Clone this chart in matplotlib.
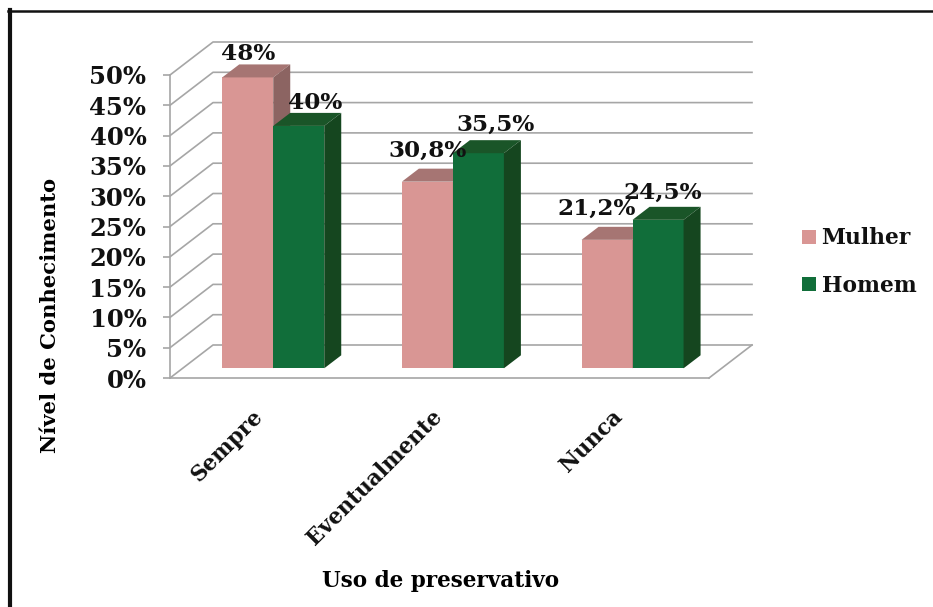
import matplotlib
matplotlib.use('Agg')
import matplotlib.pyplot as plt
from matplotlib.lines import Line2D
from matplotlib.patches import Polygon

categories = ["Sempre", "Eventualmente", "Nunca"]
mulher = [48, 30.8, 21.2]
homem = [40, 35.5, 24.5]
y_ticks = [0, 5, 10, 15, 20, 25, 30, 35, 40, 45, 50]

plt.rcParams['font.family'] = 'DejaVu Serif'
plt.rcParams['font.weight'] = 'bold'

W, H = 933, 607
fig = plt.figure(figsize=(W / 100, H / 100), dpi=100)

# front plane of the fake 3d box, in pixels from the top left
left, right, top, bottom = 170, 709, 75, 378
ax = fig.add_axes([left / W, 1 - bottom / H, (right - left) / W, (bottom - top) / H])
ax.set_xlim(0, 3)
ax.set_ylim(0, 50)
ax.patch.set_visible(False)

px_x = 3 / (right - left)
px_y = 50 / (bottom - top)

# depth of the box and of the bars
box_dx, box_dy = 43 * px_x, 33 * px_y
bar_dx, bar_dy = 17 * px_x, 13 * px_y
shift_x, shift_y = 13.4 * px_x, 9.7 * px_y
bar_w = 51 * px_x

grid_col = '#A6A6A6'
for t in y_ticks:
    ax.plot([0, box_dx, 3 + box_dx], [t, t + box_dy, t + box_dy], color=grid_col,
            lw=1.2, clip_on=False, zorder=1)
ax.plot([3, 3 + box_dx], [0, box_dy], color=grid_col, lw=1.2, clip_on=False, zorder=1)


def bars_3d(xs, values, front, top_col, side_col, name, z):
    ax.bar(xs, values, bar_w, bottom=shift_y, align='edge', color=front, label=name, zorder=z)
    for x, v in zip(xs, values):
        y = v + shift_y
        x2 = x + bar_w
        ax.add_patch(Polygon([(x, y), (x2, y), (x2 + bar_dx, y + bar_dy), (x + bar_dx, y + bar_dy)],
                             closed=True, color=top_col, lw=0, zorder=z, clip_on=False))
        ax.add_patch(Polygon([(x2, shift_y), (x2 + bar_dx, shift_y + bar_dy),
                              (x2 + bar_dx, y + bar_dy), (x2, y)],
                             closed=True, color=side_col, lw=0, zorder=z, clip_on=False))


centres = [i + 0.5 for i in range(len(categories))]
x_m = [c + shift_x - bar_w for c in centres]
x_h = [c + shift_x for c in centres]
bars_3d(x_m, mulher, '#D99694', '#A67573', '#8C6462', 'Mulher', 3)
bars_3d(x_h, homem, '#116E3A', '#1A5528', '#15461F', 'Homem', 4)

# label offsets in pixels from the middle of each bar top
off_m = [(0, 23), (0, 31), (-10, 31)]
off_h = [(16, 23), (17, 28), (5, 27)]
for xs, vals, offs in [(x_m, mulher, off_m), (x_h, homem, off_h)]:
    for x, v, o in zip(xs, vals, offs):
        txt = f"{v:g}".replace('.', ',') + '%'
        ax.annotate(txt, (x + bar_w / 2, v + shift_y), xytext=(o[0] * 0.72, o[1] * 0.72),
                    textcoords='offset points', ha='center', va='center',
                    fontsize=16.7, color='#111111', zorder=6, annotation_clip=False)

for s in ['top', 'right']:
    ax.spines[s].set_visible(False)
for s in ['left', 'bottom']:
    ax.spines[s].set_color(grid_col)
    ax.spines[s].set_linewidth(1.2)
    ax.spines[s].set_zorder(2)

ax.set_yticks(y_ticks)
ax.set_yticklabels([f"{t}%" for t in y_ticks], fontsize=17.5, color='#111111')
ax.tick_params(axis='y', length=5, width=1.2, color=grid_col, pad=12)
ax.set_xticks([c - 8 * px_x for c in centres])
ax.set_xticklabels(categories, rotation=45, ha='right', va='top', rotation_mode='anchor',
                   fontsize=15.5, color='#111111')
ax.tick_params(axis='x', length=0, pad=20)

ax.set_xlabel('Uso de preservativo', fontsize=15.5, fontweight='bold', va='center')
ax.xaxis.set_label_coords((441 - left) / (right - left), (bottom - 581) / (bottom - top))
ax.set_ylabel('Nível de Conhecimento', fontsize=15.2, fontweight='bold', va='center')
ax.yaxis.set_label_coords((50 - left) / (right - left), (bottom - 315) / (bottom - top))

ax.legend(loc='center left', bbox_to_anchor=(802 / W, 1 - 262 / H),
          bbox_transform=fig.transFigure, frameon=False, fontsize=15.7,
          handlelength=0.62, handleheight=0.62, handletextpad=0.28, labelspacing=1.15,
          borderpad=0, borderaxespad=0, labelcolor='#111111')

# black frame, only top and left show in the picture
fig.add_artist(Line2D([8 / W, 1], [1 - 11 / H, 1 - 11 / H], color='#111111', lw=1.8))
fig.add_artist(Line2D([9.5 / W, 9.5 / W], [0, 1 - 10 / H], color='#111111', lw=3))

fig.savefig('out.png', dpi=100)
